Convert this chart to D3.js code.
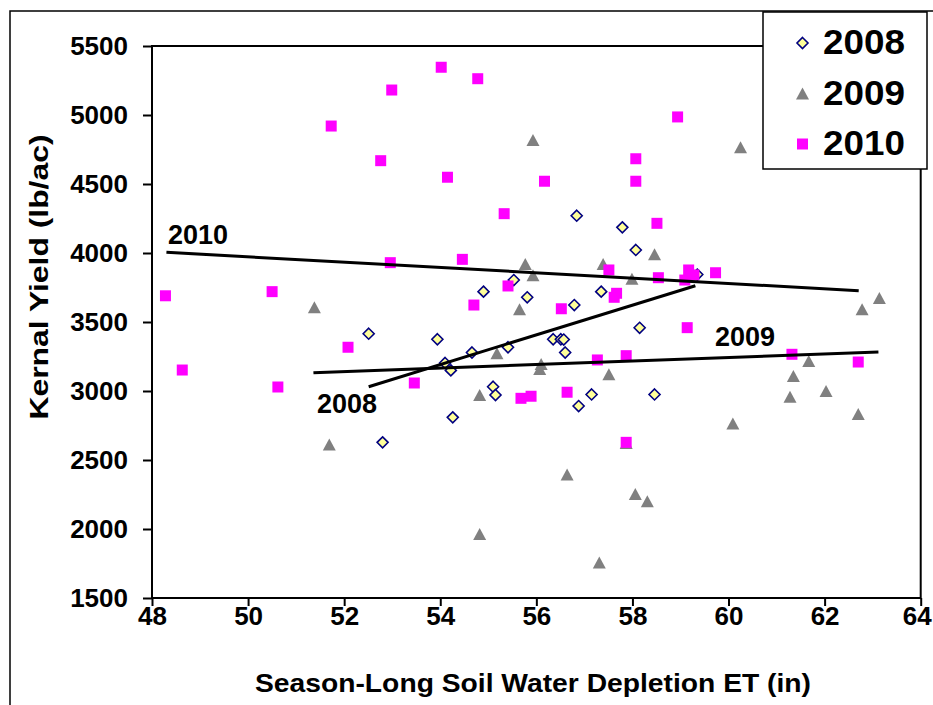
<!DOCTYPE html>
<html>
<head>
<meta charset="utf-8">
<script src="https://cdn.jsdelivr.net/npm/d3@7"></script>
<style>
  body { margin: 0; background: #fff; }
  svg text { font-family: "Liberation Sans", Arial, sans-serif; font-weight: bold; fill: #000; }
</style>
</head>
<body>
<svg id="chart" width="933" height="705"></svg>
<script>
// 2008 points (ET in, yield lb/ac)
const et2008 = [52.51, 52.80, 53.94, 54.10, 54.22, 54.26, 54.66, 54.90, 55.10, 55.15, 55.41, 55.53, 55.81,
  56.35, 56.51, 56.57, 56.60, 56.79, 56.84, 56.88, 57.15, 57.35, 57.79, 58.07, 58.15, 58.46, 59.35];
const yield2008 = [3415, 2628, 3375, 3203, 3149, 2809, 3279, 3720, 3031, 2971, 3317, 3804, 3679,
  3375, 3375, 3373, 3279, 3623, 4270, 2891, 2975, 3720, 4186, 4022, 3458, 2975, 3844];

// 2009 points
const et2009 = [51.38, 51.69, 54.82, 54.82, 55.18, 55.65, 55.77, 55.93, 55.93, 56.10, 56.07, 56.64, 57.31,
  57.39, 57.51, 57.87, 57.99, 58.06, 58.31, 58.46, 60.09, 60.25, 61.28, 61.35, 61.67, 62.03, 62.70, 62.78, 63.14];
const yield2009 = [3607, 2612, 2971, 1964, 3273, 3592, 3920, 3838, 4819, 3196, 3159, 2395, 1757,
  3920, 3121, 2623, 3814, 2254, 2201, 3991, 2764, 4766, 2959, 3109, 3217, 3000, 2833, 3592, 3674];

// 2010 points
const et2010 = [48.28, 48.63, 50.50, 50.62, 51.73, 52.08, 52.76, 52.99, 52.96, 53.46, 54.02, 54.15, 54.46,
  54.70, 54.78, 55.33, 55.41, 55.68, 55.89, 56.17, 56.52, 56.64, 57.27, 57.51, 57.62, 57.67, 57.87, 57.87,
  58.07, 58.07, 58.51, 58.54, 58.94, 59.09, 59.17, 59.28, 59.14, 59.73, 61.32, 62.70];
const yield2010 = [3690, 3152, 3720, 3029, 4920, 3317, 4669, 5181, 3930, 3058, 5346, 4549, 3954,
  3623, 5263, 4285, 3761, 2947, 2962, 4520, 3596, 2991, 3225, 3877, 3679, 3708, 3256, 2628,
  4683, 4520, 4215, 3821, 4986, 3804, 3877, 3841, 3459, 3857, 3266, 3210];

// linear trend lines, end points
const trend2008 = [[52.51, 3031], [59.31, 3763]];
const trend2009 = [[51.36, 3133], [63.12, 3283]];
const trend2010 = [[48.30, 4005], [62.71, 3727]];

const xTicks = [48, 50, 52, 54, 56, 58, 60, 62, 64];
const yTicks = [1500, 2000, 2500, 3000, 3500, 4000, 4500, 5000, 5500];
const years = ['2008', '2009', '2010'];

const svg = d3.select('#chart');

// outer chart frame
svg.append('rect')
    .attr('x', 10).attr('y', 11)
    .attr('width', 940).attr('height', 720)
    .style('fill', 'none').style('stroke', '#000').style('stroke-width', 1.5);

const x = d3.scaleLinear().domain([48, 64]).range([152, 920.7]);
const y = d3.scaleLinear().domain([1500, 5500]).range([598, 46]);

// plot area border
svg.append('rect')
    .attr('x', x(48)).attr('y', y(5500))
    .attr('width', x(64) - x(48)).attr('height', y(1500) - y(5500))
    .style('fill', 'none').style('stroke', '#000').style('stroke-width', 2);

const yAxis = svg.append('g')
    .attr('transform', `translate(${x(48)},0)`)
    .call(d3.axisLeft(y).tickValues(yTicks).tickSize(9).tickPadding(15).tickFormat(d3.format('d')));
const xAxis = svg.append('g')
    .attr('transform', `translate(0,${y(1500)})`)
    .call(d3.axisBottom(x).tickValues(xTicks).tickSize(8).tickPadding(1));

[xAxis, yAxis].forEach(g => {
    g.select('.domain').remove();
    g.selectAll('.tick line').style('stroke', '#000').style('stroke-width', 2);
    g.selectAll('.tick text').style('font-size', '26px').style('font-family', null);
});
// last x label sits right at the page edge; nudge it in a little
xAxis.selectAll('.tick text').filter(d => d === 64).attr('dx', -4);

// axis titles
svg.append('text')
    .attr('x', 533).attr('y', 692)
    .attr('text-anchor', 'middle')
    .attr('textLength', 556).attr('lengthAdjust', 'spacingAndGlyphs')
    .style('font-size', '26px')
    .text('Season-Long Soil Water Depletion ET (in)');

svg.append('text')
    .attr('transform', 'translate(48,277) rotate(-90)')
    .attr('text-anchor', 'middle')
    .attr('textLength', 285).attr('lengthAdjust', 'spacingAndGlyphs')
    .style('font-size', '26px')
    .text('Kernal Yield (lb/ac)');

// marker shapes
function diamond(s) { return `M0,${-s}L${s},0L0,${s}L${-s},0Z`; }
function triangle(w, h) { return `M0,${-h / 2}L${w / 2},${h / 2}L${-w / 2},${h / 2}Z`; }
function square(s) { return `M${-s / 2},${-s / 2}h${s}v${s}h${-s}Z`; }

const styles = {
    '2008': { path: diamond(5.5), fill: '#FFFF99', stroke: '#000080', sw: 1.6 },
    '2009': { path: triangle(13, 12), fill: '#808080', stroke: 'none', sw: 0 },
    '2010': { path: square(11), fill: '#FF00FF', stroke: 'none', sw: 0 }
};

const series = [
    { year: '2008', xs: et2008, ys: yield2008 },
    { year: '2009', xs: et2009, ys: yield2009 },
    { year: '2010', xs: et2010, ys: yield2010 }
];

series.forEach(s => {
    const st = styles[s.year];
    svg.append('g').selectAll('path')
        .data(s.xs.map((v, i) => [v, s.ys[i]]))
        .enter().append('path')
        .attr('d', st.path)
        .attr('transform', d => `translate(${x(d[0])},${y(d[1])})`)
        .style('fill', st.fill)
        .style('stroke', st.stroke)
        .style('stroke-width', st.sw);
});

// trend lines
const line = d3.line().x(d => x(d[0])).y(d => y(d[1]));
[trend2008, trend2009, trend2010].forEach(t => {
    svg.append('path')
        .attr('d', line(t))
        .style('fill', 'none').style('stroke', '#000').style('stroke-width', 3);
});

// trend labels
const trendLabels = [
    { text: '2010', px: 168, py: 244 },
    { text: '2009', px: 715, py: 346 },
    { text: '2008', px: 317, py: 413 }
];
svg.selectAll('.trend-label')
    .data(trendLabels)
    .enter().append('text')
    .attr('class', 'trend-label')
    .attr('x', d => d.px).attr('y', d => d.py)
    .style('font-size', '27px')
    .text(d => d.text);

// legend
const legend = svg.append('g');
legend.append('rect')
    .attr('x', 763).attr('y', 12)
    .attr('width', 164).attr('height', 157)
    .style('fill', '#fff').style('stroke', '#000').style('stroke-width', 1.5);

years.forEach((yr, i) => {
    const st = styles[yr];
    const cy = 43 + i * 50.5;
    legend.append('path')
        .attr('d', st.path)
        .attr('transform', `translate(802.5,${cy})`)
        .style('fill', st.fill).style('stroke', st.stroke).style('stroke-width', st.sw);
    legend.append('text')
        .attr('x', 823).attr('y', cy + 11)
        .attr('textLength', 82).attr('lengthAdjust', 'spacingAndGlyphs')
        .style('font-size', '35px')
        .text(yr);
});
</script>
</body>
</html>
